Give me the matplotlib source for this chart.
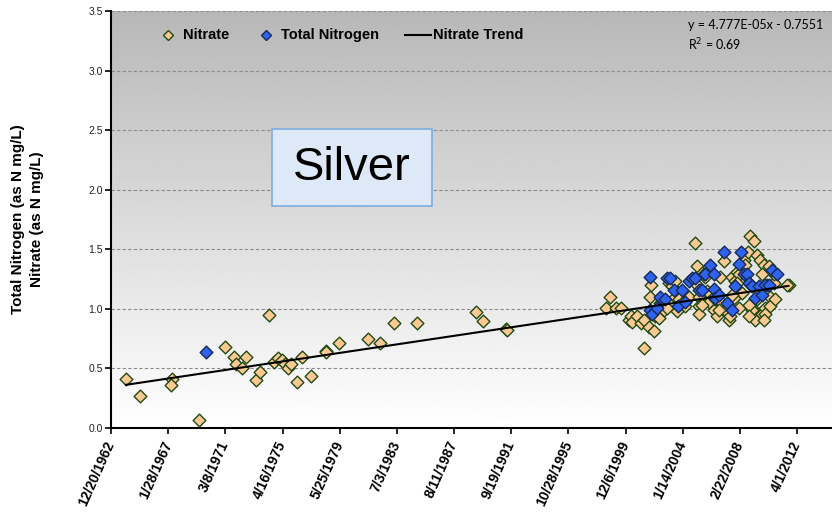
import numpy as np
import pandas as pd
import matplotlib
matplotlib.use('Agg')
import matplotlib.pyplot as plt
from matplotlib.patches import Rectangle

plt.rcParams['font.family'] = ['Liberation Sans', 'DejaVu Sans']

# x values are Excel serial dates (days since 1899-12-30)
nitrate_x = [23393, 23759, 24589, 24571, 25304, 25985, 26239, 26291, 26438, 26553,
             26796, 26909, 27155, 27267, 27380, 27495, 27555, 27642, 27731, 27888,
             28008, 28236, 28629, 28642, 28995, 29736, 30061, 30417, 31037, 32582,
             32757, 33359, 33380,
             35994, 36081, 36238, 36369, 36587, 36631, 36675, 36805, 36893, 36980,
             36980, 37111, 37154, 37172, 37242, 37285, 37373, 37416, 37504, 37591,
             37634, 37722, 37809, 37809, 37853, 37896, 37983, 38071, 38158, 38333,
             38376, 38333, 38420, 38420, 38420, 38507, 38594, 38638, 38682, 38813,
             38856, 38900, 38987, 39031, 39074, 39118, 39205, 39249, 39293, 39336,
             39380, 39423, 39467, 39554, 39598, 39642, 39712, 39773, 39860, 39729,
             39860, 39904, 39947, 39947, 40034, 40078, 40122, 40165, 40253, 40296,
             40296, 40383, 40776, 40384, 40078, 40209, 40733, 40427, 40165, 40122,
             39816, 39729, 39293, 38944, 38507, 38551, 39729, 39467, 39424]
nitrate_y = [0.41, 0.27, 0.41, 0.36, 0.07, 0.68, 0.60, 0.54, 0.50, 0.60,
             0.40, 0.47, 0.95, 0.55, 0.59, 0.57, 0.54, 0.50, 0.54, 0.39,
             0.60, 0.44, 0.65, 0.64, 0.71, 0.75, 0.71, 0.88, 0.88, 0.97,
             0.90, 0.83, 0.82,
             1.01, 1.10, 1.01, 1.01, 0.91, 0.94, 0.89, 0.94, 0.88, 0.67,
             0.91, 0.85, 1.10, 1.20, 0.81, 0.94, 0.92, 1.05, 0.99, 1.01,
             1.22, 1.19, 1.23, 1.10, 0.98, 1.08, 1.05, 1.02, 1.10, 1.55,
             1.36, 1.22, 1.10, 1.02, 0.96, 1.30, 1.27, 1.15, 1.06, 0.99,
             1.08, 0.94, 1.27, 1.05, 1.40, 0.99, 0.91, 0.94, 1.27, 1.09,
             1.23, 1.31, 1.01, 1.13, 1.41, 1.37, 1.48, 1.61, 1.57, 1.22,
             0.99, 0.91, 1.45, 1.08, 1.41, 0.96, 1.37, 1.01, 1.36, 1.10,
             1.02, 1.22, 1.20, 1.29, 1.29, 1.20, 1.20, 1.08, 0.96, 0.91,
             0.99, 1.03, 1.12, 0.99, 1.03, 1.29, 0.94, 1.29, 1.22]

tn_x = [25495,
        37154, 37154, 37198, 37329, 37416, 37547, 37591, 37678, 37765, 37879,
        37983, 38071, 38158, 38245, 38333, 38420, 38507, 38594, 38725, 38813,
        38813, 38856, 38944, 39074, 39162, 39293, 39380, 39467, 39537, 39598,
        39685, 39729, 39816, 39904, 39991, 40078, 40165, 40253, 40340, 40471]
tn_y = [0.64,
        1.27, 0.99, 0.96, 1.01, 1.10, 1.08, 1.26, 1.26, 1.16, 1.02,
        1.16, 1.06, 1.23, 1.26, 1.26, 1.16, 1.16, 1.29, 1.37, 1.29,
        1.17, 1.09, 1.12, 1.48, 1.05, 0.99, 1.19, 1.38, 1.48, 1.29,
        1.29, 1.22, 1.19, 1.09, 1.19, 1.12, 1.20, 1.20, 1.33, 1.29]

# trendline as shown on the chart
slope = 4.777e-05
intercept = -0.7551
r_squared = 0.69

tick_labels = ['12/20/1962', '1/28/1967', '3/8/1971', '4/16/1975', '5/25/1979',
               '7/3/1983', '8/11/1987', '9/19/1991', '10/28/1995', '12/6/1999',
               '1/14/2004', '2/22/2008', '4/1/2012']
y_ticks = [0.0, 0.5, 1.0, 1.5, 2.0, 2.5, 3.0, 3.5]

site = 'Silver'

NIT_FACE, NIT_EDGE = '#fcc994', '#1f4a12'
TN_FACE, TN_EDGE = '#2f62ee', '#142a55'


def to_serial(s):
    return (pd.to_datetime(s, format='%m/%d/%Y') - pd.Timestamp('1899-12-30')).days


# pixel -> axes fraction helpers (axes spans x 111..832, y 11..428 px)
def ax_x(px):
    return (px - 111) / 721


def ax_y(py):
    return 1 - (py - 11) / 417


fig = plt.figure(figsize=(8.32, 5.19), dpi=100)
ax = fig.add_axes([111 / 832, 91 / 519, 721 / 832, 417 / 519])

x_min = to_serial(tick_labels[0])
x_max = x_min + 721 / 57.17 * 1500
ax.set_xlim(x_min, x_max)
ax.set_ylim(0, 3.5)

# grey (top) to white (bottom) gradient background
grad = np.linspace(0.72, 1.0, 256).reshape(-1, 1)
ax.imshow(grad, cmap='gray', vmin=0, vmax=1, aspect='auto', origin='upper',
          extent=[x_min, x_max, 0, 3.5], zorder=0)

for yv in y_ticks[1:]:
    ax.axhline(yv, color='#8c8c8c', lw=0.8, ls=(0, (3, 2)), zorder=1)

ax.scatter(nitrate_x, nitrate_y, marker='D', s=42, facecolor=NIT_FACE,
           edgecolor=NIT_EDGE, linewidth=1.0, zorder=3)
ax.scatter(tn_x, tn_y, marker='D', s=42, facecolor=TN_FACE,
           edgecolor=TN_EDGE, linewidth=1.0, zorder=4)

tx = np.array([min(nitrate_x), max(nitrate_x)])
ax.plot(tx, slope * tx + intercept, color='black', lw=1.5, zorder=5)

ticks = [to_serial(t) for t in tick_labels]
ax.set_xticks(ticks)
ax.set_xticklabels(tick_labels, rotation=66, ha='right', va='center',
                   rotation_mode='anchor', fontsize=10, fontweight='bold')
ax.set_yticks(y_ticks)
ax.set_yticklabels(['%.1f' % v for v in y_ticks], fontsize=7.5, color='#222222')
ax.tick_params(axis='x', length=4, width=1.2, pad=6)
ax.tick_params(axis='y', length=4, width=1.2, pad=2)

for side in ['top', 'right']:
    ax.spines[side].set_visible(False)
for side in ['left', 'bottom']:
    ax.spines[side].set_linewidth(1.5)
    ax.spines[side].set_zorder(6)

fig.text(18 / 832, 0.578, 'Total Nitrogen (as N mg/L)', rotation=90,
         ha='center', va='center', fontsize=11, fontweight='bold')
fig.text(37 / 832, 0.578, 'Nitrate (as N mg/L)', rotation=90,
         ha='center', va='center', fontsize=11, fontweight='bold')

# legend, laid out by hand to match the original spacing
ly = ax_y(35)
ax.plot([ax_x(168)], [ly], marker='D', ms=5, mfc=NIT_FACE, mec=NIT_EDGE,
        transform=ax.transAxes, zorder=6)
ax.text(ax_x(183), ly, 'Nitrate', transform=ax.transAxes, va='center',
        fontsize=10.5, fontweight='bold')
ax.plot([ax_x(266)], [ly], marker='D', ms=5, mfc=TN_FACE, mec=TN_EDGE,
        transform=ax.transAxes, zorder=6)
ax.text(ax_x(281), ly, 'Total Nitrogen', transform=ax.transAxes, va='center',
        fontsize=10.5, fontweight='bold')
ax.plot([ax_x(405), ax_x(431)], [ly, ly], color='black', lw=1.5,
        transform=ax.transAxes, zorder=6)
ax.text(ax_x(433), ly, 'Nitrate Trend', transform=ax.transAxes, va='center',
        fontsize=10.5, fontweight='bold')

ax.text(ax_x(688), ax_y(25),
        'y = %.3fE-05x - %.4f' % (slope * 1e5, -intercept),
        transform=ax.transAxes, family='Lato', fontsize=9, va='center', ha='left')
ax.text(ax_x(688), ax_y(45),
        'R$^2$ = %.2f' % r_squared,
        transform=ax.transAxes, family='Lato', fontsize=9, va='center', ha='left')

box = Rectangle((272 / 832, (519 - 206) / 519), 160 / 832, 77 / 519,
                transform=fig.transFigure, facecolor='#dde9f6',
                edgecolor='#7daee0', lw=1.2, zorder=7)
fig.patches.append(box)
fig.text(352 / 832, (519 - 168) / 519, site, ha='center', va='center',
         fontsize=34, zorder=8)

fig.savefig('out.png', dpi=100)
